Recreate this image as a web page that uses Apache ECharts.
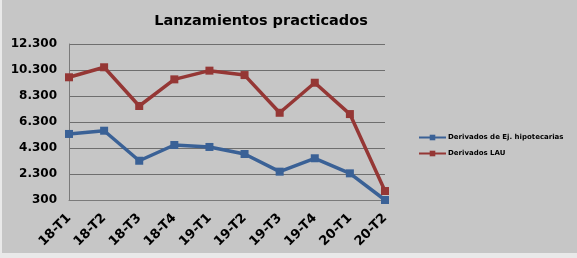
<!DOCTYPE html>
<html>
<head>
<meta charset="utf-8">
<script src="https://cdn.jsdelivr.net/npm/echarts@6/dist/echarts.min.js"></script>
<style>
html,body{margin:0;padding:0;background:#e9e9e9;width:577px;height:258px;overflow:hidden;}
#c{position:absolute;left:2px;top:0;width:575px;height:253px;background:#c6c6c6;}
</style>
</head>
<body>
<div id="c"></div>
<script>
var categories = ["18-T1","18-T2","18-T3","18-T4","19-T1","19-T2","19-T3","19-T4","20-T1","20-T2"];
var hipotecarias = [5380, 5630, 3320, 4530, 4380, 3840, 2480, 3510, 2350, 300];
var lau = [9740, 10510, 7530, 9580, 10250, 9910, 7010, 9320, 6910, 990];
var seriesNames = ["Derivados de Ej. hipotecarias", "Derivados LAU"];
var titleText = "Lanzamientos practicados";

var chart = echarts.init(document.getElementById('c'), null, {renderer: 'canvas'});
var font = 'DejaVu Sans';
chart.setOption({
  backgroundColor: '#c6c6c6',
  animation: false,
  title: {
    text: titleText,
    left: 254, top: 9, textAlign: 'center',
    textStyle: {fontFamily: font, fontWeight: 'bold', fontSize: 14.5, color: '#000'}
  },
  legend: {
    orient: 'vertical',
    left: 411, top: 129,
    itemWidth: 27, itemHeight: 7, itemGap: 9,
    textStyle: {fontFamily: font, fontWeight: 'bold', fontSize: 7, color: '#000', padding: [0,0,0,-3]},
    data: seriesNames
  },
  grid: {left: 67, right: 192, top: 44, bottom: 53, containLabel: false},
  xAxis: {
    type: 'category',
    data: categories,
    boundaryGap: false,
    axisLine: {show: true, lineStyle: {color: '#7a7a7a', width: 1}},
    axisTick: {show: false},
    axisLabel: {
      rotate: 45, margin: 16, interval: 0,
      fontFamily: font, fontWeight: 'bold', fontSize: 13, color: '#000'
    }
  },
  yAxis: {
    type: 'value',
    min: 300, max: 12300, interval: 2000,
    axisLine: {show: true, lineStyle: {color: '#7a7a7a', width: 1}},
    axisTick: {show: false},
    splitLine: {show: true, lineStyle: {color: '#6e6e6e', width: 1}},
    axisLabel: {
      margin: 12,
      fontFamily: font, fontWeight: 'bold', fontSize: 12, color: '#000',
      formatter: function (v) { return String(v).replace(/\B(?=(\d{3})+(?!\d))/g, '.'); }
    }
  },
  series: [
    {
      name: seriesNames[0], type: 'line', data: hipotecarias,
      symbol: 'rect', symbolSize: 8,
      lineStyle: {color: '#3a6196', width: 3.5},
      itemStyle: {color: '#3a6196'}
    },
    {
      name: seriesNames[1], type: 'line', data: lau,
      symbol: 'rect', symbolSize: 8,
      lineStyle: {color: '#953735', width: 3.5},
      itemStyle: {color: '#953735'}
    }
  ]
});
</script>
</body>
</html>
